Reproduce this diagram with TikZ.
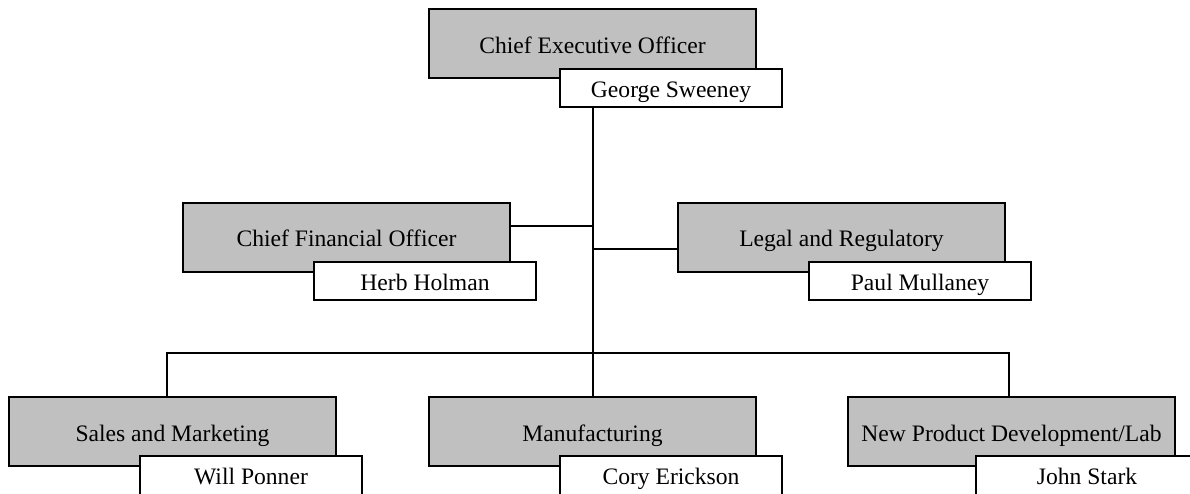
\documentclass[tikz,border=0pt]{standalone}
\usepackage{fontspec}
\setmainfont{Liberation Serif}
\definecolor{boxgray}{HTML}{C0C0C0}
\begin{document}
\begin{tikzpicture}[x=1pt,y=1pt,
  graybox/.style={draw=black, line width=2pt, fill=boxgray, minimum width=327pt, minimum height=69pt, inner sep=0pt, anchor=north west},
  namebox/.style={draw=black, line width=2pt, fill=white, minimum width=222pt, minimum height=38pt, inner sep=0pt, anchor=north west},
  boxtext/.style={anchor=base, font=\fontsize{23.6}{28}\selectfont, inner sep=0pt},
  link/.style={line width=2pt, draw=black}]
\useasboundingbox (0,0) rectangle (1190,-493);
\fill[white] (0,0) rectangle (1190,-493);

\coordinate (busl) at (167,-353);
\coordinate (busr) at (1009,-353);

% gray boxes
\node[graybox] (ceo) at (428,-8) {};
\node[graybox] (cfo) at (182,-202) {};
\node[graybox] (legal) at (677,-202) {};
\node[graybox] (sales) at (8,-396) {};
\node[graybox] (manuf) at (428,-396) {};
\node[graybox] (npd) at (847,-396) {};

% gray texts
\node[boxtext] (ceot) at ([yshift=-45pt]ceo.north) {Chief Executive Officer};
\node[boxtext] (cfot) at ([yshift=-44pt]cfo.north) {Chief Financial Officer};
\node[boxtext] (legalt) at ([yshift=-44pt]legal.north) {Legal and Regulatory};
\node[boxtext] (salest) at ([yshift=-45pt]sales.north) {Sales and Marketing};
\node[boxtext] (manuft) at ([yshift=-45pt]manuf.north) {Manufacturing};
\node[boxtext] (npdt) at ([yshift=-45pt]npd.north) {New Product Development/Lab};

% name boxes
\node[namebox] (ceon) at ([shift={(131,-60)}]ceo.north west) {};
\node[namebox] (cfon) at ([shift={(131,-59)}]cfo.north west) {};
\node[namebox] (legaln) at ([shift={(131,-59)}]legal.north west) {};
\node[namebox, minimum height=44pt] (salesn) at ([shift={(131,-59)}]sales.north west) {};
\node[namebox, minimum height=44pt] (manufn) at ([shift={(131,-59)}]manuf.north west) {};
\node[namebox, minimum height=44pt] (npdn) at ([shift={(128,-59)}]npd.north west) {};

% name texts
\node[boxtext] (ceont) at ([yshift=-29pt]ceon.north) {George Sweeney};
\node[boxtext] (cfont) at ([yshift=-29pt]cfon.north) {Herb Holman};
\node[boxtext] (legalnt) at ([yshift=-29pt]legaln.north) {Paul Mullaney};
\node[boxtext] (salesnt) at ([yshift=-29pt]salesn.north) {Will Ponner};
\node[boxtext] (manufnt) at ([yshift=-29pt]manufn.north) {Cory Erickson};
\node[boxtext] (npdnt) at ([yshift=-29pt]npdn.north) {John Stark};

% connectors
\coordinate (cfoc) at ([yshift=11.5pt]cfo.east);
\coordinate (legc) at ([yshift=-11.5pt]legal.west);
\draw[link] (ceo.north |- ceon.south) -- (manuf.north);
\draw[link] (cfoc) -- (cfoc -| ceo.north);
\draw[link] (legc) -- (legc -| ceo.north);
\draw[link] (busl |- sales.north) -- (busl) -- (busr) -- (busr |- npd.north);
\end{tikzpicture}
\end{document}
